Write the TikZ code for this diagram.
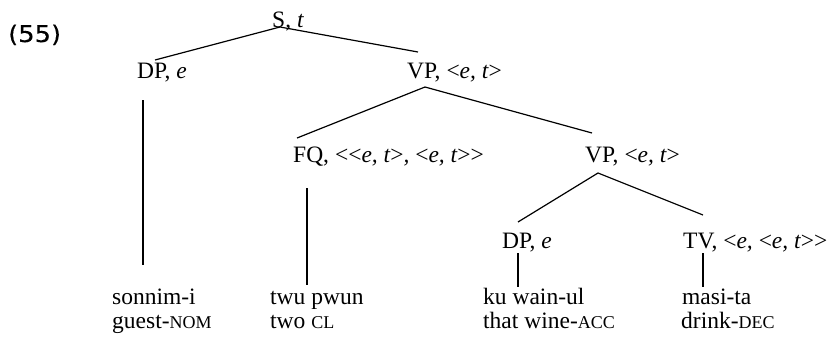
\documentclass[tikz,border=0pt]{standalone}
\usepackage{fontspec}
\setmainfont[Ligatures=NoCommon]{Liberation Serif}
\newfontfamily\numfont[FakeBold=0.25]{DejaVu Sans}
\newcommand\smcap[1]{{\fontsize{18}{18}\selectfont #1}}
\newcommand\lt{{\kern-1.3pt\textless\kern-1.3pt}}
\newcommand\gt{{\kern-1.3pt\textgreater\kern-1.3pt}}
\begin{document}
\begin{tikzpicture}[x=1pt,y=-1pt,
  lbl/.style={inner sep=0pt,anchor=base west,font=\fontsize{23.5}{26}\selectfont},
  edge/.style={line width=1.2pt,black}]
\useasboundingbox (0,0) rectangle (830,338);
% example number
\node[inner sep=0pt,anchor=base west] (num) at (8,42) {\numfont\fontsize{23}{23}\selectfont\scalebox{1.12}[1]{(55)}};
% category labels
\node[lbl] (S) at (272,27) {S, \textit{t}};
\node[lbl] (DP1) at (137,78) {DP, \textit{e}};
\node[lbl] (VP1) at (407,78) {VP, \textit{\lt{}e, t\gt{}}};
\node[lbl] (FQ) at (293,162) {FQ, \textit{\lt{}\lt{}e, t\gt{}, \lt{}e, t\gt{}\gt{}}};
\node[lbl] (VP2) at (585,162) {VP, \textit{\lt{}e, t\gt{}}};
\node[lbl] (DP3) at (502,248) {DP, \textit{e}};
\node[lbl] (TV) at (683,248) {TV, \textit{\lt{}e, \lt{}e, t\gt{}\gt{}}};
% leaves
\node[lbl] (w1) at (112,304) {sonnim-i};
\node[lbl] (g1) at (112,328) {guest-\smcap{NOM}};
\node[lbl] (w2) at (270,304) {twu pwun};
\node[lbl] (g2) at (270,328) {two \smcap{CL}};
\node[lbl] (w3) at (483,304) {ku wain-ul};
\node[lbl] (g3) at (483,328) {that wine-\smcap{ACC}};
\node[lbl] (w4) at (682,304) {masi-ta};
\node[lbl] (g4) at (681,328) {drink-\smcap{DEC}};
% connector end points
\coordinate (Sb) at (280,27);
\coordinate (DP1t) at (155,60);
\coordinate (VP1t) at (418,52);
\coordinate (VP1b) at (425,87);
\coordinate (FQt) at (297,138);
\coordinate (VP2t) at (592,133);
\coordinate (VP2b) at (598,173);
\coordinate (DP3t) at (518,222);
\coordinate (TVt) at (703,215);
\coordinate (DP1b) at (143,100);
\coordinate (w1t) at (143,265);
\coordinate (FQb) at (307,188);
\coordinate (w2t) at (307,285);
\coordinate (DP3b) at (518,253);
\coordinate (w3t) at (518,287);
\coordinate (TVb) at (703,253);
\coordinate (w4t) at (703,287);
\draw[edge] (DP1t) -- (Sb) -- (VP1t);
\draw[edge] (FQt) -- (VP1b) -- (VP2t);
\draw[edge] (DP3t) -- (VP2b) -- (TVt);
\draw[edge] (DP1b) -- (w1t);
\draw[edge] (FQb) -- (w2t);
\draw[edge] (DP3b) -- (w3t);
\draw[edge] (TVb) -- (w4t);
\end{tikzpicture}
\end{document}
